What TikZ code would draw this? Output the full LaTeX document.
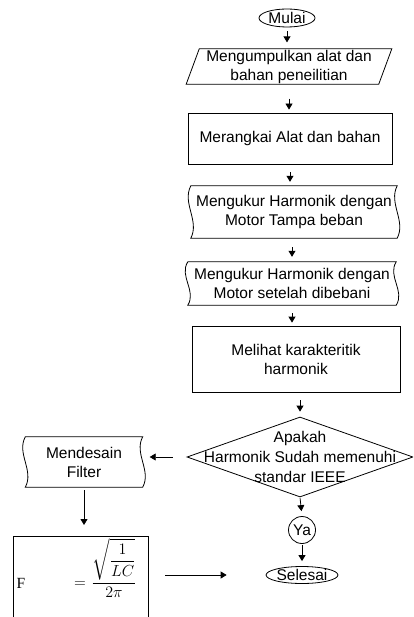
\RequirePackage{fix-cm}
\documentclass[tikz,border=0pt]{standalone}
\usepackage{amsmath}
\usepackage{fontspec}
\setmainfont{Liberation Sans}
\newfontfamily\serifF{Liberation Serif}
\usetikzlibrary{arrows.meta,shapes.geometric,calc}

\begin{document}
\begin{tikzpicture}[x=1pt, y=-1pt,
    line/.style={draw=black, line width=0.8pt},
    txt/.style={font=\fontsize{15.5}{19}\selectfont, align=center, inner sep=1pt},
    term/.style={txt, ellipse, line, inner sep=0pt},
    io/.style={txt, trapezium, trapezium left angle=71, trapezium right angle=109,
               trapezium stretches=true, line, minimum width=206pt, minimum height=33pt},
    proc/.style={txt, rectangle, line},
    tp/.style={txt, rectangle},
    dec/.style={diamond, line, minimum width=226pt, minimum height=80pt, inner sep=0pt},
    arr/.style={line, -{Triangle[length=6pt,width=7pt]}},
  ]
  \useasboundingbox (0,0) rectangle (413,617);
  \clip (0,0) rectangle (413,617);

  % punched tape outline round a named node: #1 node name
  \newcommand{\tapeline}[1]{%
    \draw[line] (#1.north west) -- (#1.north east)
      .. controls ($(#1.north east)!.33!(#1.south east)+(-9,0)$)
              and ($(#1.north east)!.67!(#1.south east)+(9,0)$) .. (#1.south east)
      -- (#1.south west)
      .. controls ($(#1.north west)!.67!(#1.south west)+(9,0)$)
              and ($(#1.north west)!.33!(#1.south west)+(-9,0)$) .. cycle;}

  %% ================= main column =================
  \node[term, minimum width=56pt, minimum height=18pt] (mulai) at (287,18) {Mulai};
  \node[io] (kumpul) at (289,66.5) {Mengumpulkan alat dan\\bahan peneilitian};
  \node[proc, minimum width=204pt, minimum height=51pt] (rangkai) at (290,138.5)
       {Merangkai Alat dan bahan};
  \node[tp, minimum width=206pt, minimum height=52pt] (ukur1) at (294,212)
       {Mengukur Harmonik dengan\\Motor Tampa beban};
  \tapeline{ukur1}
  \node[tp, minimum width=208pt, minimum height=43pt] (ukur2) at (292,283.5)
       {Mengukur Harmonik dengan\\Motor setelah dibebani};
  \tapeline{ukur2}
  \node[proc, minimum width=208pt, minimum height=66pt] (lihat) at (296,359)
       {Melihat karakteritik\\harmonik};
  \node[dec] (cek) at (300,457) {};
  \node[txt, font=\fontsize{15.5}{20}\selectfont] (cekText) at (cek.center)
       {Apakah\\Harmonik Sudah memenuhi\\standar IEEE};
  \node[txt, circle, line, minimum size=27pt, inner sep=0pt] (ya) at (302,530) {Ya};
  \node[term, minimum width=62pt, minimum height=17pt] (selesai) at (302,575) {Selesai};

  %% ================= left branch =================
  \node[tp, minimum width=117pt, minimum height=50pt] (desain) at (84,462)
       {Mendesain\\Filter};
  \tapeline{desain}
  \node[proc, anchor=north, minimum width=135pt, minimum height=100pt] (rumus) at (80.5,536) {};
  \node[txt, anchor=base] (fF) at (21,588) {\serifF F};
  \node[txt, anchor=base] (fEq) at (80,587) {$=$};
  \node[txt, anchor=base, font=\fontsize{16}{19}\selectfont] (fFrac) at (114,587)
       {$\dfrac{\sqrt{\dfrac{1}{LC}}}{2\pi}$};

  %% ================= connectors =================
  \draw[arr, shorten <=4pt, shorten >=6pt] (mulai.south) -- (mulai.south |- kumpul.north);
  \draw[arr, shorten <=14pt, shorten >=3pt] (kumpul.south) -- (kumpul.south |- rangkai.north);
  \draw[arr, shorten <=8pt, shorten >=4pt] (rangkai.south) -- (rangkai.south |- ukur1.north);
  \draw[arr, shorten <=9pt, shorten >=5pt] (ukur2.north |- ukur1.south) -- (ukur2.north);
  \draw[arr, shorten <=8pt, shorten >=3pt] (ukur2.south) -- (ukur2.south |- lihat.north);
  \draw[arr, shorten <=8pt, shorten >=5pt] (cek.north |- lihat.south) -- (cek.north);
  \draw[arr, shorten <=1pt, shorten >=5pt] (cek.south) -- (ya.north);
  \draw[arr, shorten <=1pt, shorten >=5pt] (ya.south) -- (selesai.north);
  \draw[arr, shorten <=14pt, shorten >=7pt] (cek.west) -- (cek.west -| desain.east);
  \draw[arr, shorten <=3pt, shorten >=11pt] (desain.south) -- (desain.south |- rumus.north);
  \draw[arr, shorten <=17pt, shorten >=39pt] (selesai.west -| rumus.east) -- (selesai.west);

\end{tikzpicture}
\end{document}
